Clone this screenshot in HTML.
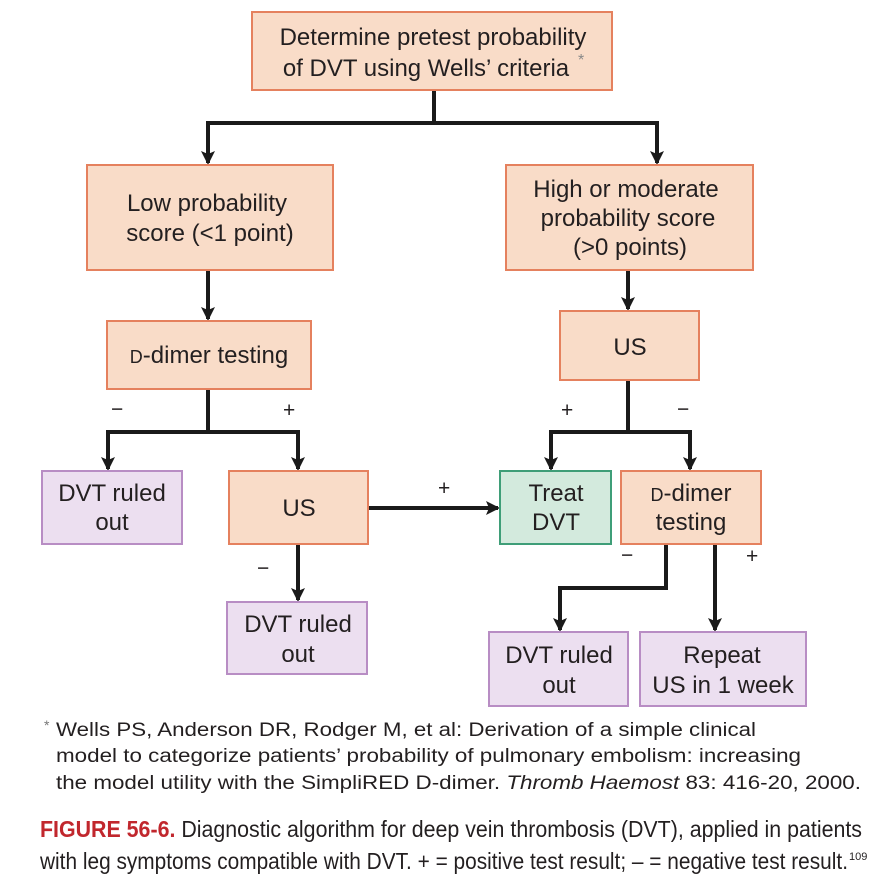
<!DOCTYPE html>
<html><head><meta charset="utf-8"><style>
html,body{margin:0;padding:0;background:#fff;}
svg{display:block;}
text{font-family:"Liberation Sans",sans-serif;fill:#231f20;}
.o{fill:#f9dcc8;stroke:#e5815e;stroke-width:2;}
.p{fill:#ecdff0;stroke:#b88dc4;stroke-width:2;}
.g{fill:#d3eadd;stroke:#3f9e78;stroke-width:2;}
.l{stroke:#1a1a1a;stroke-width:4;fill:none;}
.b{font-size:24px;text-anchor:middle;}
.s{font-size:21px;}
</style></head><body>
<svg width="896" height="892" viewBox="0 0 896 892" xmlns="http://www.w3.org/2000/svg">
<defs>
<marker id="ar" viewBox="0 0 14 14" markerWidth="14" markerHeight="14" refX="12" refY="7" orient="auto" markerUnits="userSpaceOnUse"><path d="M0,0 L14,7 L0,14 L3,7z" fill="#1a1a1a"/></marker></defs>

<path class="l" d="M434,90 V123 M208,123 H657"/>
<path class="l" d="M208,121 V163" marker-end="url(#ar)"/>
<path class="l" d="M657,121 V163" marker-end="url(#ar)"/>
<path class="l" d="M208,270 V319" marker-end="url(#ar)"/>
<path class="l" d="M628,270 V309" marker-end="url(#ar)"/>
<path class="l" d="M208,389 V432 M106,432 H300"/>
<path class="l" d="M108,430 V469" marker-end="url(#ar)"/>
<path class="l" d="M298,430 V469" marker-end="url(#ar)"/>
<path class="l" d="M628,380 V432 M549,432 H692"/>
<path class="l" d="M551,430 V469" marker-end="url(#ar)"/>
<path class="l" d="M690,430 V469" marker-end="url(#ar)"/>
<path class="l" d="M368,508 H498" marker-end="url(#ar)"/>
<path class="l" d="M298,544 V600" marker-end="url(#ar)"/>
<path class="l" d="M666,544 V588 H560"/>
<path class="l" d="M560,586 V630" marker-end="url(#ar)"/>
<path class="l" d="M715,544 V630" marker-end="url(#ar)"/>

<rect class="o" x="252" y="12" width="360" height="78"/>
<text class="b" x="433" y="45">Determine pretest probability</text>
<text class="b" x="426" y="76">of DVT using Wells’ criteria</text>
<text x="578" y="65" style="font-size:16px;fill:#888">*</text>

<rect class="o" x="87" y="165" width="246" height="105"/>
<text class="b" x="207" y="211">Low probability</text>
<text class="b" x="210" y="241">score (&lt;1 point)</text>

<rect class="o" x="506" y="165" width="247" height="105"/>
<text class="b" x="626" y="197">High or moderate</text>
<text class="b" x="628" y="226">probability score</text>
<text class="b" x="630" y="255">(&gt;0 points)</text>

<rect class="o" x="107" y="321" width="204" height="68"/>
<text class="b" x="209" y="363"><tspan style="font-size:18px">D</tspan>-dimer testing</text>

<rect class="o" x="560" y="311" width="139" height="69"/>
<text class="b" x="630" y="355">US</text>

<rect class="p" x="42" y="471" width="140" height="73"/>
<text class="b" x="112" y="501">DVT ruled</text>
<text class="b" x="112" y="530">out</text>

<rect class="o" x="229" y="471" width="139" height="73"/>
<text class="b" x="299" y="516">US</text>

<rect class="g" x="500" y="471" width="111" height="73"/>
<text class="b" x="556" y="501">Treat</text>
<text class="b" x="556" y="530">DVT</text>

<rect class="o" x="621" y="471" width="140" height="73"/>
<text class="b" x="691" y="501"><tspan style="font-size:18px">D</tspan>-dimer</text>
<text class="b" x="691" y="530">testing</text>

<rect class="p" x="227" y="602" width="140" height="72"/>
<text class="b" x="298" y="632">DVT ruled</text>
<text class="b" x="298" y="662">out</text>

<rect class="p" x="489" y="632" width="139" height="74"/>
<text class="b" x="559" y="663">DVT ruled</text>
<text class="b" x="559" y="693">out</text>

<rect class="p" x="640" y="632" width="166" height="74"/>
<text class="b" x="722" y="663">Repeat</text>
<text class="b" x="723" y="693">US in 1 week</text>

<text class="s" x="111" y="416">−</text>
<text class="s" x="283" y="417">+</text>
<text class="s" x="561" y="417">+</text>
<text class="s" x="677" y="416">−</text>
<text class="s" x="438" y="495">+</text>
<text class="s" x="257" y="575">−</text>
<text class="s" x="621" y="562">−</text>
<text class="s" x="746" y="563">+</text>

<text x="44" y="730" style="font-size:14px;fill:#777">*</text>
<text x="56" y="736" style="font-size:19px" textLength="700" lengthAdjust="spacingAndGlyphs">Wells PS, Anderson DR, Rodger M, et al: Derivation of a simple clinical</text>
<text x="56" y="762" style="font-size:19px" textLength="745" lengthAdjust="spacingAndGlyphs">model to categorize patients’ probability of pulmonary embolism: increasing</text>
<text x="56" y="789" style="font-size:19px" textLength="805" lengthAdjust="spacingAndGlyphs">the model utility with the SimpliRED D-dimer. <tspan font-style="italic">Thromb Haemost</tspan> 83: 416-20, 2000.</text>

<text x="40" y="837" style="font-size:23px" textLength="822" lengthAdjust="spacingAndGlyphs"><tspan style="fill:#c1272d;font-weight:bold">FIGURE 56-6.</tspan>  Diagnostic algorithm for deep vein thrombosis (DVT), applied in patients</text>
<text x="40" y="869" style="font-size:23px" textLength="808" lengthAdjust="spacingAndGlyphs">with leg symptoms compatible with DVT. + = positive test result; – = negative test result.</text>
<text x="849" y="860" style="font-size:11px">109</text>
</svg>
</body></html>
